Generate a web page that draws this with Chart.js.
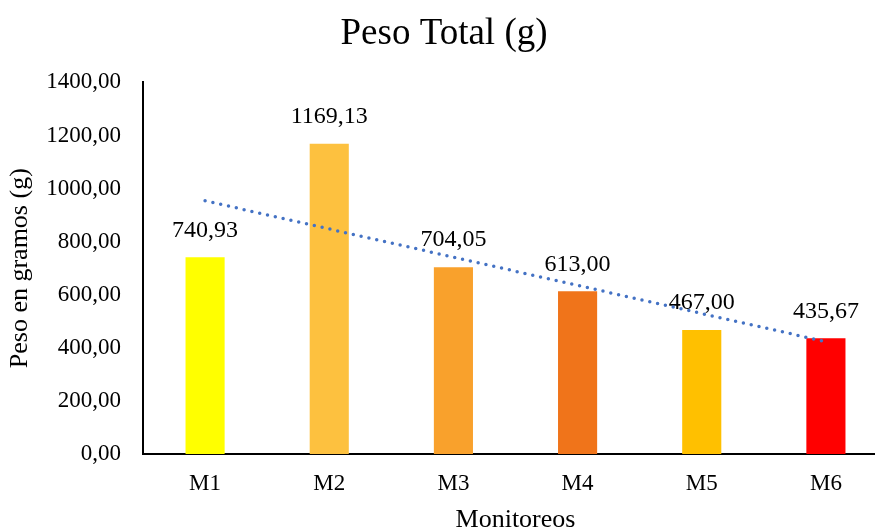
<!DOCTYPE html>
<html>
<head>
<meta charset="utf-8">
<script src="https://cdn.jsdelivr.net/npm/chart.js@4"></script>
<style>
  html, body { margin: 0; padding: 0; background: #fff; overflow: hidden; }
  #wrap { width: 888px; height: 531px; }
</style>
</head>
<body>
<div id="wrap"><canvas id="graficoPeso" width="888" height="531"></canvas></div>
<script>
// datos
const monitoreos = ['M1', 'M2', 'M3', 'M4', 'M5', 'M6'];
const pesoTotal = [740.93, 1169.13, 704.05, 613.00, 467.00, 435.67];
const coloresBarras = ['#FFFF00', '#FDC13F', '#F9A12C', '#F0741A', '#FFC000', '#FF0000'];
// tendencia lineal (solo extremos)
const tendencia = [954, null, null, null, null, 423];

const fmt = v => Number(v).toFixed(2).replace('.', ',');
const serif = 'Liberation Serif';

// etiquetas de datos sobre cada barra
const etiquetas = {
    id: 'etiquetas',
    beforeDatasetsDraw(chart) {
        const meta = chart.getDatasetMeta(1);
        const ctx = chart.ctx;
        ctx.save();
        ctx.font = '24px "' + serif + '"';
        ctx.fillStyle = '#000';
        ctx.textAlign = 'center';
        ctx.textBaseline = 'middle';
        meta.data.forEach((bar, i) => {
            ctx.fillText(fmt(pesoTotal[i]), bar.x, bar.y - 27);
        });
        ctx.restore();
    }
};

new Chart(document.getElementById('graficoPeso'), {
    data: {
        labels: monitoreos,
        datasets: [{
            type: 'line',
            data: tendencia,
            spanGaps: true,
            borderColor: '#4472C4',
            borderWidth: 3.5,
            borderDash: [0, 8],
            borderCapStyle: 'round',
            pointRadius: 0,
            fill: false,
            order: 0
        }, {
            type: 'bar',
            data: pesoTotal,
            backgroundColor: coloresBarras,
            categoryPercentage: 1,
            barPercentage: 0.315,
            order: 1
        }]
    },
    options: {
        responsive: false,
        animation: false,
        layout: { padding: { left: 0, right: 0, top: 0, bottom: 0 } },
        plugins: {
            legend: { display: false },
            tooltip: { enabled: false },
            title: {
                display: true,
                text: 'Peso Total (g)',
                color: '#000',
                font: { family: serif, size: 37, weight: 'normal' },
                padding: { top: 12, bottom: 26 }
            }
        },
        scales: {
            x: {
                grid: { display: false, drawTicks: false },
                border: { display: true, color: '#000', width: 2 },
                ticks: { color: '#000', padding: 16, font: { family: serif, size: 23 } },
                title: {
                    display: true,
                    text: 'Monitoreos',
                    color: '#000',
                    font: { family: serif, size: 26 },
                    padding: { top: 0, bottom: -5 }
                },
                afterFit: s => { s.height = 77; }
            },
            y: {
                min: 0,
                max: 1400,
                grid: { display: false, drawTicks: false },
                border: { display: true, color: '#000', width: 2 },
                ticks: {
                    stepSize: 200,
                    color: '#000',
                    padding: 22,
                    font: { family: serif, size: 23 },
                    callback: v => fmt(v)
                },
                title: {
                    display: true,
                    text: 'Peso en gramos (g)',
                    color: '#000',
                    font: { family: serif, size: 26 },
                    padding: { top: 5, bottom: 0 }
                },
                afterFit: s => { s.width = 143; }
            }
        }
    },
    plugins: [etiquetas]
});
</script>
</body>
</html>
